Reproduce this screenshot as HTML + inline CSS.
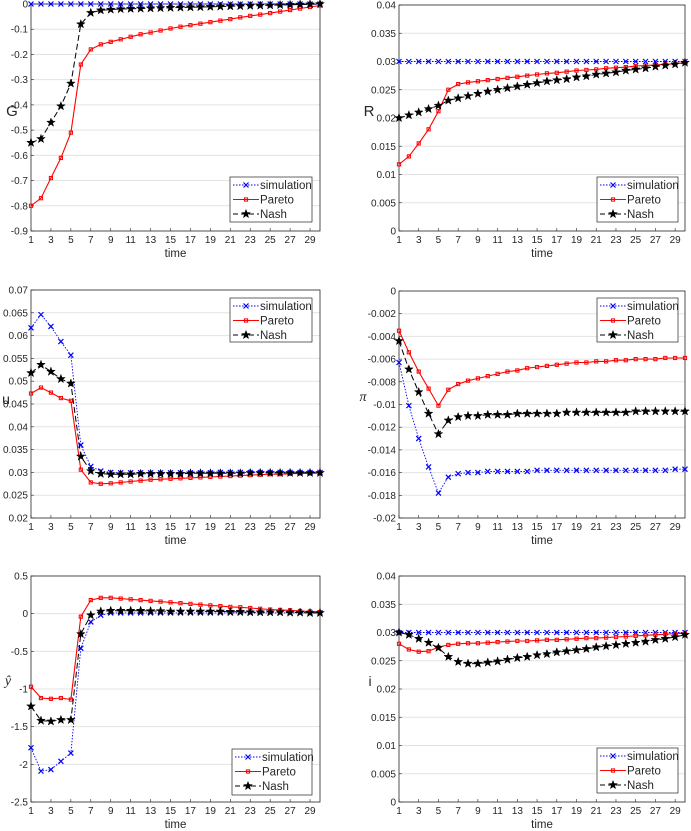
<!DOCTYPE html>
<html><head><meta charset="utf-8">
<style>
body{margin:0;background:#fff;}
svg{display:block;font-family:"Liberation Sans",sans-serif;}
</style></head>
<body>
<svg id="fig" width="691" height="831" viewBox="0 0 691 831" xmlns="http://www.w3.org/2000/svg"></svg>
<script>
const timeSteps = Array.from({length:30},(_, k)=>k+1);
const xTickLabels = [1,3,5,7,9,11,13,15,17,19,21,23,25,27,29];

const gSim = Array(30).fill(0);
const gPareto = [-0.80,-0.77,-0.69,-0.61,-0.51,-0.24,-0.18,-0.16,-0.15,-0.14,-0.13,-0.12,-0.113,-0.105,-0.097,-0.09,-0.084,-0.078,-0.072,-0.066,-0.06,-0.053,-0.047,-0.042,-0.036,-0.03,-0.024,-0.018,-0.012,-0.006];
const gNash = [-0.55,-0.535,-0.47,-0.405,-0.315,-0.08,-0.035,-0.025,-0.022,-0.02,-0.019,-0.018,-0.017,-0.016,-0.015,-0.014,-0.013,-0.012,-0.011,-0.01,-0.009,-0.008,-0.007,-0.006,-0.005,-0.004,-0.003,-0.002,-0.001,0];

const rSim = Array(30).fill(0.03);
const rPareto = [0.0118,0.0132,0.0155,0.018,0.0212,0.025,0.026,0.0263,0.0265,0.0267,0.0269,0.0271,0.0273,0.0275,0.0277,0.0279,0.028,0.0282,0.0284,0.0285,0.0286,0.0288,0.0289,0.029,0.0292,0.0293,0.0294,0.0295,0.0296,0.0298];
const rNash = [0.02,0.0205,0.021,0.0216,0.0222,0.0231,0.0235,0.0239,0.0243,0.0247,0.025,0.0253,0.0256,0.0259,0.0262,0.0265,0.0267,0.0269,0.0272,0.0274,0.0277,0.0279,0.0281,0.0284,0.0286,0.0288,0.0291,0.0293,0.0295,0.0298];

const uSim = [0.0617,0.0646,0.062,0.0587,0.0557,0.036,0.0313,0.0303,0.030,0.0299,0.0299,0.0299,0.0299,0.0299,0.0299,0.0299,0.0299,0.0299,0.0299,0.03,0.03,0.03,0.03,0.03,0.03,0.03,0.03,0.03,0.03,0.03];
const uPareto = [0.0473,0.0486,0.0475,0.0463,0.0457,0.0306,0.0278,0.0275,0.0276,0.0278,0.028,0.0282,0.0284,0.0285,0.0286,0.0287,0.0288,0.0289,0.029,0.0291,0.0292,0.0293,0.0294,0.0295,0.0296,0.0296,0.0297,0.0298,0.0298,0.0299];
const uNash = [0.0518,0.0536,0.0521,0.0505,0.0495,0.0335,0.0303,0.0297,0.0296,0.0296,0.0296,0.0297,0.0297,0.0297,0.0297,0.0297,0.0298,0.0298,0.0298,0.0298,0.0298,0.0298,0.0299,0.0299,0.0299,0.0299,0.0299,0.0299,0.0299,0.0299];

const piSim = [-0.0063,-0.0101,-0.0130,-0.0155,-0.0178,-0.0164,-0.0161,-0.0160,-0.0160,-0.0159,-0.0159,-0.0159,-0.0159,-0.0159,-0.0158,-0.0158,-0.0158,-0.0158,-0.0158,-0.0158,-0.0158,-0.0158,-0.0158,-0.0158,-0.0158,-0.0158,-0.0158,-0.0158,-0.0157,-0.0157];
const piPareto = [-0.0035,-0.0054,-0.0071,-0.0086,-0.0101,-0.0087,-0.0082,-0.0079,-0.0077,-0.0075,-0.0073,-0.0071,-0.0070,-0.0068,-0.0067,-0.0066,-0.0065,-0.0064,-0.0063,-0.0063,-0.0062,-0.0062,-0.0061,-0.0061,-0.0060,-0.0060,-0.0060,-0.0059,-0.0059,-0.0059];
const piNash = [-0.0044,-0.0069,-0.0089,-0.0108,-0.0126,-0.0114,-0.0111,-0.0110,-0.0110,-0.0109,-0.0109,-0.0109,-0.0108,-0.0108,-0.0108,-0.0108,-0.0108,-0.0107,-0.0107,-0.0107,-0.0107,-0.0107,-0.0107,-0.0107,-0.0106,-0.0106,-0.0106,-0.0106,-0.0106,-0.0106];

const ySim = [-1.78,-2.09,-2.07,-1.96,-1.85,-0.46,-0.11,-0.02,0.01,0.01,0.01,0.01,0.01,0.01,0.01,0.01,0.01,0.01,0.01,0.01,0.01,0.01,0.01,0.01,0.01,0.01,0.01,0.01,0.01,0.01];
const yPareto = [-0.97,-1.12,-1.13,-1.12,-1.14,-0.04,0.18,0.21,0.21,0.20,0.19,0.18,0.17,0.16,0.15,0.14,0.13,0.12,0.11,0.10,0.09,0.085,0.075,0.065,0.055,0.05,0.045,0.035,0.03,0.02];
const yNash = [-1.23,-1.42,-1.43,-1.41,-1.41,-0.27,-0.02,0.03,0.04,0.04,0.04,0.04,0.035,0.035,0.03,0.03,0.03,0.03,0.03,0.03,0.025,0.025,0.02,0.02,0.02,0.02,0.015,0.015,0.01,0.01];

const iSim = Array(30).fill(0.03);
const iPareto = [0.028,0.027,0.0266,0.0267,0.0274,0.0278,0.028,0.0281,0.0281,0.0282,0.0283,0.0284,0.0285,0.0285,0.0286,0.0287,0.0287,0.0288,0.0289,0.029,0.029,0.0291,0.0292,0.0293,0.0294,0.0295,0.0296,0.0297,0.0298,0.0299];
const iNash = [0.030,0.0296,0.0289,0.0282,0.0273,0.0257,0.0248,0.0245,0.0245,0.0247,0.0249,0.0252,0.0255,0.0257,0.026,0.0262,0.0265,0.0267,0.0269,0.0271,0.0274,0.0276,0.0278,0.028,0.0282,0.0284,0.0287,0.0289,0.0292,0.0296];

const gTicks = [0,-0.1,-0.2,-0.3,-0.4,-0.5,-0.6,-0.7,-0.8,-0.9];
const rTicks = [0,0.005,0.01,0.015,0.02,0.025,0.03,0.035,0.04];
const uTicks = [0.02,0.025,0.03,0.035,0.04,0.045,0.05,0.055,0.06,0.065,0.07];
const piTicks = [-0.02,-0.018,-0.016,-0.014,-0.012,-0.01,-0.008,-0.006,-0.004,-0.002,0];
const yTicks = [-2.5,-2,-1.5,-1,-0.5,0,0.5];
const iTicks = [0,0.005,0.01,0.015,0.02,0.025,0.03,0.035,0.04];

const NS="http://www.w3.org/2000/svg";
const fig=document.getElementById('fig');
function mk(tag,attrs,parent){const e=document.createElementNS(NS,tag);for(const k in attrs)e.setAttribute(k,attrs[k]);(parent||fig).appendChild(e);return e;}
function starPts(cx,cy,r){let p=[];for(let k=0;k<10;k++){const a=-Math.PI/2+k*Math.PI/5;const rr=k%2?r*0.4:r;p.push((cx+rr*Math.cos(a)).toFixed(1)+','+(cy+rr*Math.sin(a)).toFixed(1));}return p.join(' ');}

function drawMarker(g,type,cx,cy){
  if(type==='x'){
    const m=mk('path',{d:`M${cx-2.5},${cy-2.5}L${cx+2.5},${cy+2.5}M${cx-2.5},${cy+2.5}L${cx+2.5},${cy-2.5}`,stroke:'#0000ff','stroke-width':1.2,fill:'none'},g);
    
    
  } else if(type==='s'){
    const m=mk('rect',{x:cx-1.6,y:cy-1.6,width:3.2,height:3.2,fill:'none',stroke:'#ff0000','stroke-width':1},g);
    
    
  } else {
    const m=mk('polygon',{points:starPts(cx,cy,4.5),fill:'#000',stroke:'#000','stroke-width':0.5},g);
    
    
  }
}

function panel(cfg){
  const {name,L,R,T,B,ymin,ymax,ticks,fmt,label,labelX,labelY,labelStyle,series,leg}=cfg;
  const g=mk('g',{});
  
  
  const sx=v=>L+(v-1)/(29)*(R-L);
  const sy=v=>B-(v-ymin)/(ymax-ymin)*(B-T);
  ticks.forEach(t=>{
    const y=sy(t);
    const gl=mk('line',{x1:L,x2:R,y1:y,y2:y,stroke:'#e3e3e3','stroke-width':1},g);
    
    
    mk('line',{x1:L,x2:L+3,y1:y,y2:y,stroke:'#262626','stroke-width':0.6},g);
    const tl=mk('text',{x:L-3,y:y+3.5,'text-anchor':'end','font-size':10,fill:'#262626'},g);
    tl.textContent=fmt(t);
    
    
  });
  xTickLabels.forEach(t=>{
    const x=sx(t);
    mk('line',{x1:x,x2:x,y1:B,y2:B-3,stroke:'#262626','stroke-width':0.6},g);
    const tl=mk('text',{x:x,y:B+12,'text-anchor':'middle','font-size':10,fill:'#262626'},g);
    tl.textContent=t;
    
    
  });
  const box=mk('rect',{x:L,y:T,width:R-L,height:B-T,fill:'none',stroke:'#262626','stroke-width':0.8},g);
  
  
  const xt=mk('text',{x:(L+R)/2,y:B+26,'text-anchor':'middle','font-size':11.5,fill:'#262626'},g);
  xt.textContent='time';
  
  
  const yt=mk('text',{x:labelX,y:labelY,'text-anchor':'middle','font-size':labelStyle.size,fill:'#262626','font-style':labelStyle.italic?'italic':'normal','font-family':labelStyle.serif?'"Liberation Serif",serif':'"Liberation Sans",sans-serif'},g);
  yt.textContent=label;
  
  
  const styles={x:{stroke:'#0000ff',dash:'1.5,1.5',w:0.9},s:{stroke:'#ff0000',dash:'',w:1.1},p:{stroke:'#000',dash:'6,3',w:1}};
  series.forEach(s=>{
    const st=styles[s.m];
    const d=s.data.map((v,k)=>(k?'L':'M')+sx(timeSteps[k]).toFixed(1)+','+sy(v).toFixed(1)).join('');
    const ln=mk('path',{d,fill:'none',stroke:st.stroke,'stroke-width':st.w,'stroke-dasharray':st.dash},g);
    
    
    s.data.forEach((v,k)=>drawMarker(g,s.m,sx(timeSteps[k]),sy(v)));
  });
  const lg=mk('g',{},g);
  
  
  mk('rect',{x:leg.x,y:leg.y,width:leg.w,height:leg.h,fill:'#fff',stroke:'#262626','stroke-width':0.7},lg);
  const names=['simulation','Pareto','Nash'],ms=['x','s','p'];
  names.forEach((nm,k)=>{
    const yy=leg.y+8+k*14.5;
    const st=styles[ms[k]];
    const e=mk('g',{},lg);
    
    
    mk('line',{x1:leg.x+3,x2:leg.x+29,y1:yy,y2:yy,stroke:st.stroke,'stroke-width':st.w,'stroke-dasharray':ms[k]==='p'?'5,3':st.dash},e);
    drawMarker(e,ms[k],leg.x+16,yy);
    const t=mk('text',{x:leg.x+30,y:yy+4,'font-size':11.5,fill:'#262626'},e);
    t.textContent=nm;
  });
}
const fmt=v=>v===0?'0':String(+v.toFixed(4));
const S=(a,b,c)=>[{n:'simulation',m:'x',data:a},{n:'pareto',m:'s',data:b},{n:'nash',m:'p',data:c}];

panel({name:'g',L:31,R:320,T:4,B:231,ymin:-0.9,ymax:0,ticks:gTicks,fmt:fmt,label:'G',labelX:12,labelY:116,labelStyle:{size:15},series:S(gSim,gPareto,gNash),leg:{x:230,y:177,w:82,h:45}});
panel({name:'r',L:399,R:685,T:5,B:231,ymin:0,ymax:0.04,ticks:rTicks,fmt:fmt,label:'R',labelX:369,labelY:116,labelStyle:{size:15},series:S(rSim,rPareto,rNash),leg:{x:597,y:177,w:81,h:45}});
panel({name:'u',L:31,R:320,T:290,B:518,ymin:0.02,ymax:0.07,ticks:uTicks,fmt:fmt,label:'u',labelX:6,labelY:404,labelStyle:{size:14},series:S(uSim,uPareto,uNash),leg:{x:230,y:298,w:82,h:44}});
panel({name:'pi',L:399,R:685,T:291,B:518,ymin:-0.02,ymax:0,ticks:piTicks,fmt:fmt,label:'π',labelX:363,labelY:401,labelStyle:{size:14,serif:true,italic:true},series:S(piSim,piPareto,piNash),leg:{x:597,y:298,w:81,h:44}});
panel({name:'yhat',L:31,R:320,T:576,B:802,ymin:-2.5,ymax:0.5,ticks:yTicks,fmt:fmt,label:'ŷ',labelX:8,labelY:685,labelStyle:{size:14,serif:true,italic:true},series:S(ySim,yPareto,yNash),leg:{x:232,y:749,w:80,h:46}});
panel({name:'i',L:399,R:685,T:576,B:802,ymin:0,ymax:0.04,ticks:iTicks,fmt:fmt,label:'i',labelX:370,labelY:686,labelStyle:{size:14},series:S(iSim,iPareto,iNash),leg:{x:597,y:748,w:81,h:45}});
</script>
</body></html>
